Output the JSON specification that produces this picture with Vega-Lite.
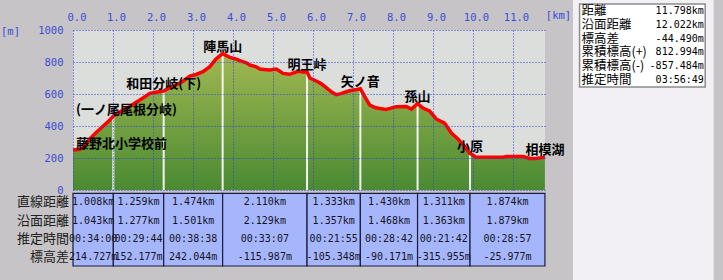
{
"$schema":"https://vega.github.io/schema/vega-lite/v6.json",
"width":472,"height":160,
"autosize":{"type":"none"},
"padding":{"left":73,"top":30,"right":178,"bottom":90},
"background":"#c6c4c6",
"config":{"view":{"fill":"#dcdedc","stroke":null}},
"datasets":{
"profile":[
{"km":0,"elev":250},{"km":0.17,"elev":254},{"km":0.25,"elev":262},{"km":0.42,"elev":320},{"km":0.58,"elev":360},{"km":0.75,"elev":398},{"km":0.9,"elev":432},{"km":1.008,"elev":462},{"km":1.25,"elev":500},{"km":1.42,"elev":522},{"km":1.58,"elev":548},{"km":1.75,"elev":575},{"km":1.92,"elev":604},{"km":2.1,"elev":612},{"km":2.267,"elev":618},{"km":2.42,"elev":640},{"km":2.58,"elev":656},{"km":2.75,"elev":680},{"km":2.92,"elev":712},{"km":3.08,"elev":722},{"km":3.25,"elev":740},{"km":3.42,"elev":771},{"km":3.58,"elev":820},{"km":3.741,"elev":852},{"km":3.92,"elev":829},{"km":4.08,"elev":818},{"km":4.17,"elev":808},{"km":4.33,"elev":795},{"km":4.42,"elev":781},{"km":4.58,"elev":770},{"km":4.67,"elev":756},{"km":4.83,"elev":752},{"km":4.92,"elev":750},{"km":5.08,"elev":756},{"km":5.17,"elev":742},{"km":5.25,"elev":729},{"km":5.42,"elev":723},{"km":5.55,"elev":735},{"km":5.63,"elev":742},{"km":5.75,"elev":738},{"km":5.851,"elev":737},{"km":5.92,"elev":700},{"km":6.08,"elev":681},{"km":6.2,"elev":665},{"km":6.33,"elev":640},{"km":6.45,"elev":615},{"km":6.58,"elev":596},{"km":6.7,"elev":602},{"km":6.83,"elev":614},{"km":6.92,"elev":620},{"km":7.05,"elev":626},{"km":7.184,"elev":633},{"km":7.29,"elev":585},{"km":7.42,"elev":531},{"km":7.55,"elev":515},{"km":7.67,"elev":510},{"km":7.83,"elev":504},{"km":7.95,"elev":512},{"km":8.08,"elev":521},{"km":8.33,"elev":522},{"km":8.46,"elev":506},{"km":8.614,"elev":540},{"km":8.75,"elev":512},{"km":8.92,"elev":492},{"km":9.08,"elev":444},{"km":9.29,"elev":418},{"km":9.46,"elev":356},{"km":9.63,"elev":318},{"km":9.79,"elev":272},{"km":9.925,"elev":228},{"km":10.08,"elev":205},{"km":10.4,"elev":205},{"km":10.75,"elev":205},{"km":10.83,"elev":210},{"km":11.25,"elev":209},{"km":11.42,"elev":197},{"km":11.58,"elev":197},{"km":11.75,"elev":204},{"km":11.798,"elev":207}
],
"waypoints":[
{"name":"藤野北小学校前","km":0,"elev":250},
{"name":"(一ノ尾尾根分岐)","km":1.008,"elev":462},
{"name":"和田分岐(下)","km":2.267,"elev":618},
{"name":"陣馬山","km":3.741,"elev":852},
{"name":"明王峠","km":5.851,"elev":737},
{"name":"矢ノ音","km":7.184,"elev":633},
{"name":"孫山","km":8.614,"elev":540},
{"name":"小原","km":9.925,"elev":228},
{"name":"相模湖","km":11.798,"elev":207}
],
"segments":[
{"seg":1,"start":0,"end":1.008,"直線距離":"1.008km","沿面距離":"1.043km","推定時間":"00:34:00","標高差":"214.727m"},
{"seg":2,"start":1.008,"end":2.267,"直線距離":"1.259km","沿面距離":"1.277km","推定時間":"00:29:44","標高差":"152.177m"},
{"seg":3,"start":2.267,"end":3.741,"直線距離":"1.474km","沿面距離":"1.501km","推定時間":"00:38:38","標高差":"242.044m"},
{"seg":4,"start":3.741,"end":5.851,"直線距離":"2.110km","沿面距離":"2.129km","推定時間":"00:33:07","標高差":"-115.987m"},
{"seg":5,"start":5.851,"end":7.184,"直線距離":"1.333km","沿面距離":"1.357km","推定時間":"00:21:55","標高差":"-105.348m"},
{"seg":6,"start":7.184,"end":8.614,"直線距離":"1.430km","沿面距離":"1.468km","推定時間":"00:28:42","標高差":"-90.171m"},
{"seg":7,"start":8.614,"end":9.925,"直線距離":"1.311km","沿面距離":"1.363km","推定時間":"00:21:42","標高差":"-315.955m"},
{"seg":8,"start":9.925,"end":11.798,"直線距離":"1.874km","沿面距離":"1.879km","推定時間":"00:28:57","標高差":"-25.977m"}
],
"rows":[{"item":"直線距離"},{"item":"沿面距離"},{"item":"推定時間"},{"item":"標高差"}],
"stats":[
{"label":"距離","value":"11.798km"},
{"label":"沿面距離","value":"12.022km"},
{"label":"標高差","value":"-44.490m"},
{"label":"累積標高(+)","value":"812.994m"},
{"label":"累積標高(-)","value":"-857.484m"},
{"label":"推定時間","value":"03:56:49"}
],
"panel":[{"part":"panel"}]
},
"layer":[
{
"layer":[
{
"encoding":{
"x":{"field":"km","type":"quantitative","scale":{"domain":[0,11.8],"nice":false},
"axis":{"orient":"top","values":[0,1,2,3,4,5,6,7,8,9,10,11],"format":".1f","grid":true,"gridColor":"#3040e0","gridDash":[1,2],"gridWidth":1,"ticks":false,"tickSize":0,"domain":false,"labelPadding":8,"labelOffset":3,"labelFlushOffset":9,"labelOverlap":false,"labelFont":"DejaVu Sans Mono","labelFontSize":10.5,"labelColor":"#3c4cd8","title":"[km]","titleX":485,"titleY":-15,"titleAngle":0,"titleAlign":"center","titleBaseline":"middle","titleFont":"DejaVu Sans Mono","titleFontSize":10.5,"titleFontWeight":"normal","titleColor":"#3c4cd8","zindex":1}},
"y":{"field":"elev","type":"quantitative","scale":{"domain":[0,1000],"nice":false},
"axis":{"values":[0,200,400,600,800,1000],"tickCount":6,"format":"d","grid":true,"gridColor":"#3040e0","gridDash":[1,2],"gridWidth":1,"ticks":false,"tickSize":0,"domain":false,"labelPadding":10,"labelOverlap":false,"labelFont":"DejaVu Sans Mono","labelFontSize":10.5,"labelColor":"#3c4cd8","title":"[m]","titleX":-63,"titleY":1,"titleAngle":0,"titleAlign":"center","titleBaseline":"middle","titleFont":"DejaVu Sans Mono","titleFontSize":10.5,"titleFontWeight":"normal","titleColor":"#3c4cd8","zindex":1}}
},
"layer":[
{"data":{"name":"profile"},
"mark":{"type":"area","color":{"gradient":"linear","x1":0,"y1":0,"x2":0,"y2":1,"stops":[{"offset":0,"color":"#a0b852"},{"offset":1,"color":"#4a8a32"}]}}},
{"data":{"name":"waypoints"},"transform":[{"filter":"datum.km > 0 && datum.km < 11.7"}],
"mark":{"type":"rule","color":"#f4f4f4","strokeWidth":2},
"encoding":{"y2":{"datum":0}}},
{"data":{"name":"profile"},
"mark":{"type":"line","color":"#ff0000","strokeWidth":3.5}},
{"data":{"name":"waypoints"},"transform":[{"filter":"datum.km >= 1.5"}],
"mark":{"type":"text","font":"Noto Sans CJK JP","fontWeight":"bold","fontSize":13,"color":"#000000","align":"center","baseline":"middle","dy":-7},
"encoding":{"text":{"field":"name"}}},
{"data":{"name":"waypoints"},"transform":[{"filter":"datum.km < 1.5"}],
"mark":{"type":"text","font":"Noto Sans CJK JP","fontWeight":"bold","fontSize":13,"color":"#000000","align":"left","baseline":"middle","dx":3,"dy":-6},
"encoding":{"x":{"datum":0,"type":"quantitative"},"text":{"field":"name"}}},
{"data":{"name":"panel"},"mark":{"type":"rule","color":"#ffffff","strokeWidth":2},"encoding":{"x":{"datum":0,"type":"quantitative"},"y":{"datum":0,"type":"quantitative"},"y2":{"datum":1000}}},
{"data":{"name":"panel"},"mark":{"type":"rule","color":"#ffffff","strokeWidth":2},"encoding":{"x":{"datum":0,"type":"quantitative"},"x2":{"datum":11.8},"y":{"datum":1000,"type":"quantitative"}}},
{"data":{"name":"panel"},"mark":{"type":"rule","color":"#4858e8","strokeWidth":2},"encoding":{"x":{"datum":11.8,"type":"quantitative"},"y":{"datum":0,"type":"quantitative"},"y2":{"datum":1000}}},
{"data":{"name":"panel"},"mark":{"type":"rule","color":"#4858e8","strokeWidth":2},"encoding":{"x":{"datum":0,"type":"quantitative"},"x2":{"datum":11.8},"y":{"datum":0,"type":"quantitative"}}}
]
},
{
"layer":[
{"data":{"name":"segments"},
"mark":{"type":"rect","fill":"#a6b6fc","stroke":"#1c1c3c","strokeWidth":1.2},
"encoding":{"x":{"field":"start","type":"quantitative"},"x2":{"field":"end"},
"y":{"datum":0,"type":"quantitative","scale":{"domain":[0,1],"range":[163.3,236]},"axis":null},
"y2":{"datum":1}}},
{"data":{"name":"segments"},
"transform":[{"fold":["直線距離","沿面距離","推定時間","標高差"],"as":["item","value"]},{"fold":["start","end"],"as":["edge","pos"]}],
"mark":{"type":"text","font":"DejaVu Sans Mono","fontSize":10,"color":"#14141c","align":"center","baseline":"middle"},
"encoding":{"x":{"aggregate":"mean","field":"pos","type":"quantitative"},
"y":{"field":"item","type":"nominal","scale":{"type":"band","domain":["直線距離","沿面距離","推定時間","標高差"],"range":[163.3,236],"paddingInner":0,"paddingOuter":0},"axis":null},
"text":{"field":"value"},"detail":{"field":"seg"}}},
{"data":{"name":"rows"},
"mark":{"type":"text","font":"Noto Sans CJK JP","fontSize":13,"color":"#202020","align":"right","baseline":"middle","dx":-4},
"encoding":{"x":{"datum":0,"type":"quantitative"},
"y":{"field":"item","type":"nominal","scale":{"type":"band","domain":["直線距離","沿面距離","推定時間","標高差"],"range":[163.3,236],"paddingInner":0,"paddingOuter":0},"axis":null},
"text":{"field":"item"}}}
],
"resolve":{"scale":{"y":"independent"}}
}
],
"resolve":{"scale":{"y":"independent"}}
},
{
"layer":[
{
"layer":[
{"data":{"name":"panel"},"mark":{"type":"rect","fill":"#f2f0f4"},
"encoding":{"x":{"datum":0,"type":"quantitative","scale":{"domain":[0,150],"range":[500,650]},"axis":null},"x2":{"datum":150},
"y":{"datum":0,"type":"quantitative","scale":{"domain":[0,280],"range":[-30,250]},"axis":null},"y2":{"datum":280}}},
{"data":{"name":"panel"},"mark":{"type":"rect","fill":"#ffffff","stroke":"#8c8c8c","strokeWidth":1.5},
"encoding":{"x":{"datum":7,"type":"quantitative"},"x2":{"datum":141},"y":{"datum":4,"type":"quantitative"},"y2":{"datum":87}}}
]
},
{
"layer":[
{"data":{"name":"stats"},"mark":{"type":"text","font":"Noto Sans CJK JP","fontSize":12.5,"color":"#000000","align":"left","baseline":"middle"},
"encoding":{"x":{"datum":9,"type":"quantitative"},
"y":{"field":"label","type":"nominal","sort":null,"scale":{"type":"band","domain":["距離","沿面距離","標高差","累積標高(+)","累積標高(-)","推定時間"],"range":[-26,57],"paddingInner":0,"paddingOuter":0},"axis":null},
"text":{"field":"label"}}},
{"data":{"name":"stats"},"mark":{"type":"text","font":"DejaVu Sans Mono","fontSize":10,"color":"#000000","align":"right","baseline":"middle"},
"encoding":{"x":{"datum":139.5,"type":"quantitative"},
"y":{"field":"label","type":"nominal","sort":null,"axis":null},
"text":{"field":"value"}}}
]
}
],
"resolve":{"scale":{"y":"independent"}}
}
],
"resolve":{"scale":{"x":"independent","y":"independent"}}
}
